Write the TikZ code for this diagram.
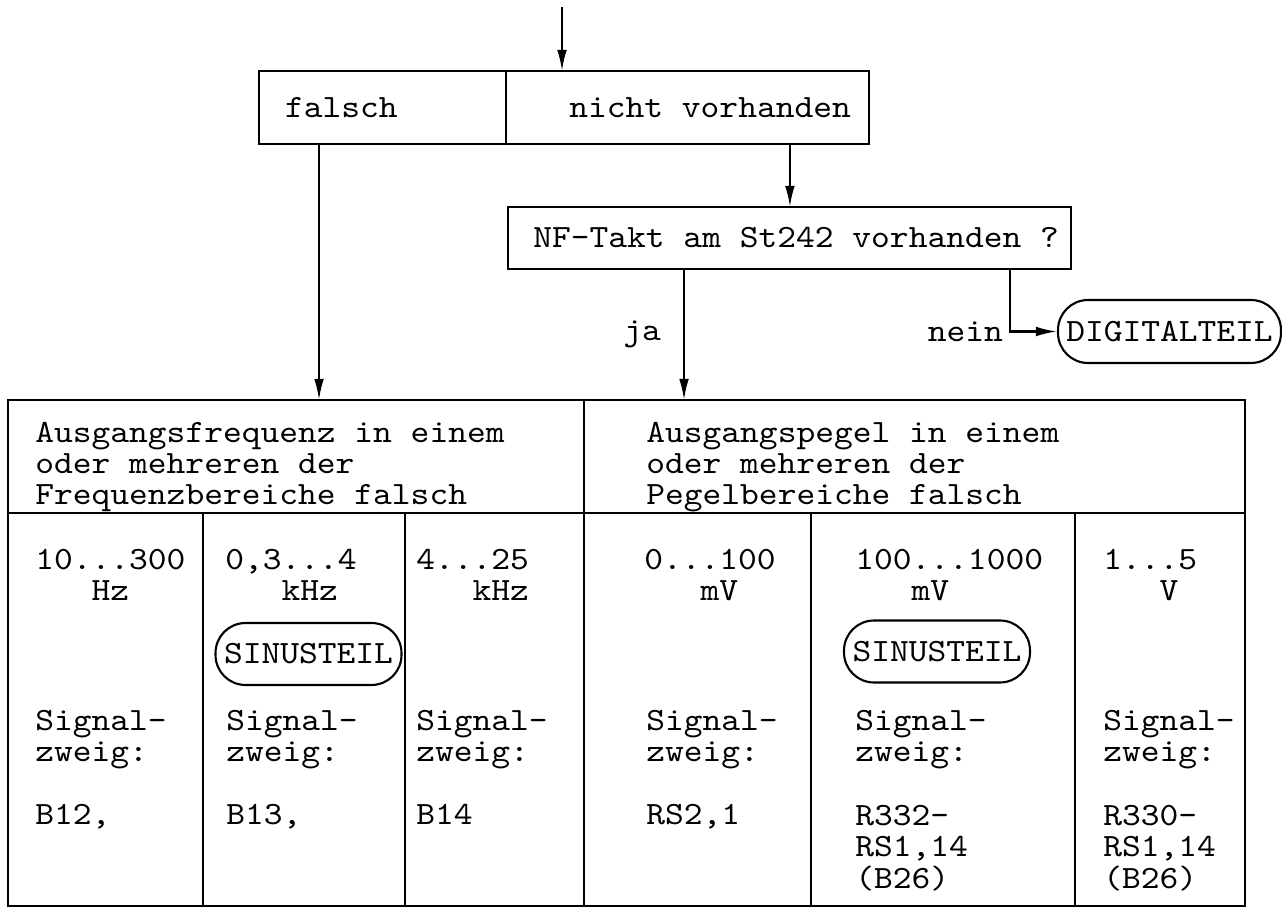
\documentclass[tikz,border=0pt]{standalone}
\usepackage{fontspec}
\usepackage{tikz}
\usetikzlibrary{arrows.meta,positioning}
\newfontfamily\typew{lmmono10-regular.otf}[FakeStretch=1.1]
\newcommand{\tw}{\fontsize{18.5pt}{17.9pt}\typew\spaceskip=\fontcharwd\font`x\relax}

\begin{document}
\begin{tikzpicture}[
    x=0.02cm, y=-0.02cm,
    every node/.style={font=\tw, inner sep=0pt},
    box/.style={draw, rectangle, line width=1.2pt, outer sep=0pt, minimum height=1.46cm},
    cell/.style={draw, rectangle, line width=1.2pt, outer sep=0pt, anchor=north west, minimum height=7.86cm},
    head/.style={draw, rectangle, line width=1.2pt, outer sep=0pt, anchor=north west, minimum height=2.26cm},
    txt/.style={anchor=base west, align=left},
    term/.style={draw, rectangle, rounded corners=0.6cm, line width=1.2pt, minimum height=1.24cm, minimum width=3.72cm},
    arrow/.style={-{Latex[length=12pt,width=5.5pt]}, line width=1.2pt}
]
\useasboundingbox (0,0) rectangle (1282,908);

    % Oberer Teil
    \coordinate (start) at (562,7);
    \node (falsch) [box, text width=3.90cm, inner xsep=0.52cm, align=flush left] at (382.5,107.5) {falsch};
    \node (nicht) [box, text width=6.54cm, inner xsep=0.36cm, align=flush right, right=0pt of falsch] {nicht vorhanden};
    \node (nf) [box, minimum height=1.24cm, text width=10.78cm, inner xsep=0.24cm, align=flush right] at (789.5,238) {NF-Takt am St242 vorhanden ?};
    \node (digital) [term, minimum width=4.46cm, minimum height=1.26cm] at (1169.5,331.5) {DIGITALTEIL};

    % Tabelle
    \node (hfreq) [head, minimum width=11.52cm] at (8,400) {};
    \node (hpeg) [head, minimum width=13.22cm] at (hfreq.north east) {};
    \node (colA) [cell, minimum width=3.90cm] at (hfreq.south west) {};
    \node (colB) [cell, minimum width=4.04cm] at (colA.north east) {};
    \node (colC) [cell, minimum width=3.58cm] at (colB.north east) {};
    \node (colD) [cell, minimum width=4.54cm] at (colC.north east) {};
    \node (colE) [cell, minimum width=5.28cm] at (colD.north east) {};
    \node (colF) [cell, minimum width=3.40cm] at (colE.north east) {};

    % Texte der Tabelle (Basislinie der letzten Zeile)
    \node (hfreqtxt) [txt] at (35,505) {Ausgangsfrequenz in einem\\oder mehreren der\\Frequenzbereiche falsch};
    \node (hpegtxt) [txt] at (646,505) {Ausgangspegel in einem\\oder mehreren der\\Pegelbereiche falsch};

    \node (rngA) [txt] at (35,601) {10...300\\\phantom{000}Hz};
    \node (rngB) [txt] at (225,601) {0,3...4\\\phantom{000}kHz};
    \node (rngC) [txt] at (416,601) {4...25\\\phantom{000}kHz};
    \node (rngD) [txt] at (644,601) {0...100\\\phantom{000}mV};
    \node (rngE) [txt] at (855,601) {100...1000\\\phantom{000}mV};
    \node (rngF) [txt] at (1103,601) {1...5\\\phantom{000}V};

    \node (sinB) [term] at (308.5,654) {SINUSTEIL};
    \node (sinE) [term] at (937,651.5) {SINUSTEIL};

    \node (sigA) [txt] at (35,762) {Signal-\\zweig:};
    \node (sigB) [txt] at (226,762) {Signal-\\zweig:};
    \node (sigC) [txt] at (416,762) {Signal-\\zweig:};
    \node (sigD) [txt] at (646,762) {Signal-\\zweig:};
    \node (sigE) [txt] at (855,762) {Signal-\\zweig:};
    \node (sigF) [txt] at (1103,762) {Signal-\\zweig:};

    \node (valA) [txt] at (35,825) {B12,};
    \node (valB) [txt] at (226,825) {B13,};
    \node (valC) [txt] at (416,825) {B14};
    \node (valD) [txt] at (646,825) {RS2,1};
    \node (valE) [txt] at (855,888) {R332-\\RS1,14\\(B26)};
    \node (valF) [txt] at (1103,888) {R330-\\RS1,14\\(B26)};

    % Pfeile
    \draw [arrow] (start) -- (start |- nicht.north);
    \draw [arrow] ([xshift=2.05cm]nicht.south) -- ([xshift=2.05cm]nicht.south |- nf.north);
    \draw [arrow] ([xshift=-1.27cm]falsch.south) -- ([xshift=-1.27cm]falsch.south |- hfreq.north);
    \draw [arrow] ([xshift=-2.11cm]nf.south) -- node[left=0.44cm] {ja} ([xshift=-2.11cm]nf.south |- hpeg.north);
    \draw [arrow] ([xshift=4.41cm]nf.south) |- node[left=0.12cm, pos=0.5] {nein} (digital.west);

\end{tikzpicture}
\end{document}
